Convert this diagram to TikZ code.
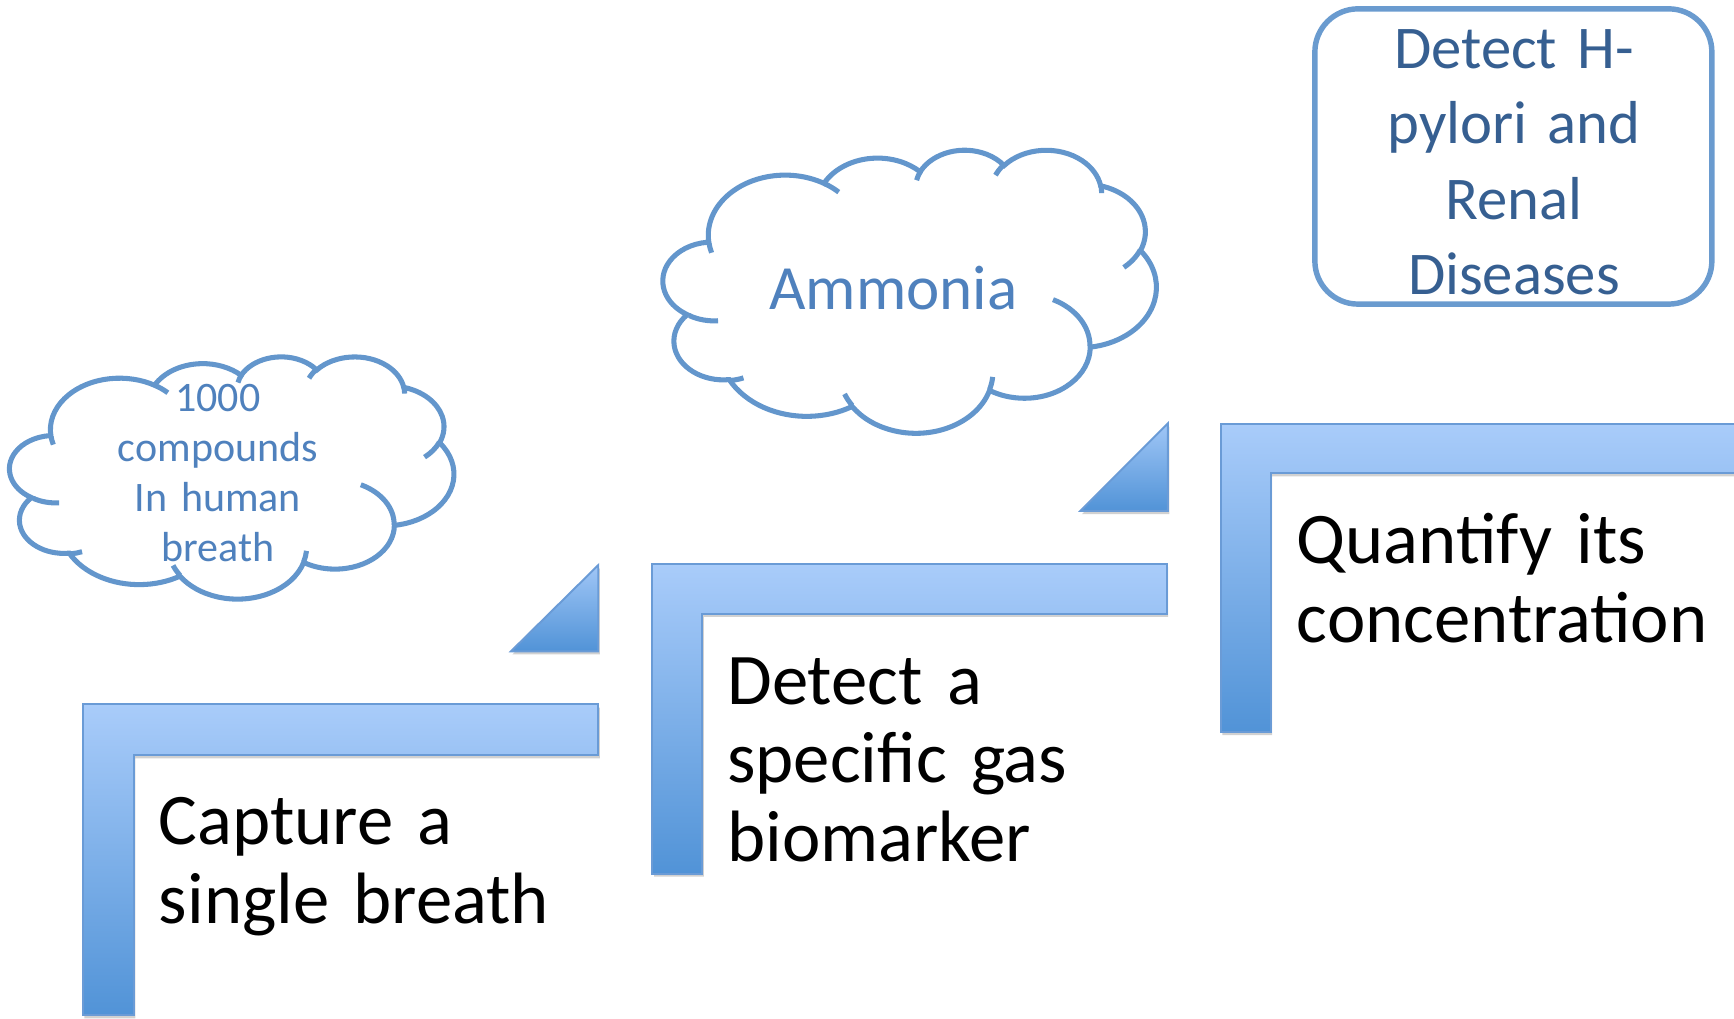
\documentclass[tikz,border=0pt]{standalone}
\usepackage{fontspec}
\setmainfont{Carlito}[WordSpace=0.85]
\usetikzlibrary{shadows}
\definecolor{lt}{HTML}{A9CCFA}
\definecolor{dk}{HTML}{5193D7}
\definecolor{edgeblue}{HTML}{6A9BD6}
\definecolor{cloudline}{HTML}{6396CC}
\definecolor{cloudtext}{HTML}{4F81BD}
\definecolor{boxline}{HTML}{6A9BCF}
\definecolor{boxtext}{HTML}{365F91}
% OOXML-style arcTo (geometric angles) -> TikZ parametric arc
\newcommand\carc[4]{arc[x radius=#1, y radius=#2,
  start angle={atan2((#1)*sin(#3),(#2)*cos(#3))},
  delta angle={Mod(atan2((#1)*sin((#3)+(#4)),(#2)*cos((#3)+(#4)))-atan2((#1)*sin(#3),(#2)*cos(#3)),360)}]}
\newcommand\mycloudmain{(39,143.7)
  \carc{67.53}{91.90}{-190.4875}{123.7805}
  \carc{53.33}{72.67}{-144.1024}{89.9452}
  \carc{43.65}{59.45}{-145.8079}{99.7230}
  \carc{48.57}{65.95}{-130.9861}{117.2417}
  \carc{53.33}{72.73}{-78.7089}{109.0269}
  \carc{67.75}{92.20}{-46.2673}{130.2690}
  \carc{57.85}{78.67}{0.6250}{114.0333}
  \carc{67.52}{92.15}{22.4516}{115.1726}
  \carc{77.20}{105.43}{66.2426}{77.8936}
  \carc{43.60}{59.18}{-274.9421}{146.7356}
  \carc{43.45}{59.45}{-246.8285}{152.5189} -- cycle}
\newcommand\mycloudhooks{
  (46.93,261.77) \carc{43.45}{59.45}{86.742}{26.4295}
  (69.28,348.99) \carc{43.60}{59.18}{73.6105}{11.4475}
  (164.78,390.90) \carc{67.52}{92.15}{137.6242}{14.0811}
  (288.27,347.51) \carc{67.52}{92.15}{6.4533}{15.9984}
  (341.29,229.54) \carc{57.85}{78.67}{-70.2924}{70.9174}
  (417.98,153.54) \carc{53.33}{72.73}{30.3180}{27.7515}
  (383.24,54.26) \carc{48.57}{65.95}{-13.7443}{14.8589}
  (290.78,39.52) \carc{48.57}{65.95}{-149.1815}{18.1954}
  (221.41,47.20) \carc{43.65}{59.45}{-163.4943}{17.6864}
  (140.00,51.92) \carc{67.53}{91.90}{-66.7070}{12.3193}
  (41.27,157.89) \carc{67.53}{91.90}{157.6544}{11.8582}}
\tikzset{
  stepshape/.style={top color=lt, bottom color=dk, draw=edgeblue, line width=0.5pt,
    drop shadow={shadow xshift=0.4pt, shadow yshift=-0.8pt, opacity=0.3, fill=black!60}},
  arrowtri/.style={top color=lt!90!dk, bottom color=dk, draw=edgeblue, line width=0.5pt,
    drop shadow={shadow xshift=0.4pt, shadow yshift=-0.8pt, opacity=0.3, fill=black!60}},
  cloudshape/.style={draw=cloudline, line width=1.3pt, fill=white},
  cloudhook/.style={draw=cloudline, line width=1.3pt},
  steptext/.style={font={\fontsize{18.7}{20.2}\selectfont}, text=black, text width=6cm,
    align=left, inner sep=0pt, anchor=base west},
}
\begin{document}
\begin{tikzpicture}[x=0.01cm, y=-0.01cm]
\useasboundingbox (0,0) rectangle (1568,921);
\clip (0,0) rectangle (1568,921);
% steps
\path[stepshape] (75,637) -- (541,637) -- (541,683) -- (121,683) -- (121,918) -- (75,918) -- cycle;
\path[stepshape] (590,510) -- (1055,510) -- (1055,555) -- (635,555) -- (635,790) -- (590,790) -- cycle;
\path[stepshape] (1104,383) -- (1590,383) -- (1590,428) -- (1149,428) -- (1149,662) -- (1104,662) -- cycle;
% arrow triangles
\path[arrowtri] (541,511) -- (541,589) -- (462,589) -- cycle;
\path[arrowtri] (1056,383) -- (1056,462) -- (977,462) -- cycle;
% step texts
\node[steptext] (t1) at (143,764) {Capture a\\single breath};
\node[steptext] (t2) at (657,637) {Detect a\\specific gas\\biomarker};
\node[steptext] (t3) at (1172,510) {Quantify its\\concentration};
% cloud 1
\begin{scope}[shift={(10,322)}, x=0.009259cm, y=-0.005069cm]
  \path[cloudshape] \mycloudmain;
  \path[cloudhook] \mycloudhooks;
\end{scope}
\node[font={\fontsize{10.8}{12.9}\selectfont}, text=cloudtext, text width=3cm, align=center,
  inner sep=0pt, anchor=base] (c1) at (197,372) {1000\\compounds\\In human\\breath};
% cloud 2
\begin{scope}[shift={(601,135)}, x=0.010278cm, y=-0.005926cm]
  \path[cloudshape] \mycloudmain;
  \path[cloudhook] \mycloudhooks;
\end{scope}
\node[font={\fontsize{16.2}{19}\selectfont}, text=cloudtext, inner sep=0pt, anchor=base] (c2) at (808,280) {Ammonia};
% outcome box
\draw[boxline, line width=1.4pt, rounded corners=0.39cm] (1189,8) rectangle (1548,275);
\node[font={\fontsize{15.6}{19.35}\selectfont}, text=boxtext, text width=3.4cm, align=center,
  inner sep=0pt, anchor=base] (b) at (1369,62) {Detect H-\\pylori and\\Renal\\Diseases};
\end{tikzpicture}
\end{document}
